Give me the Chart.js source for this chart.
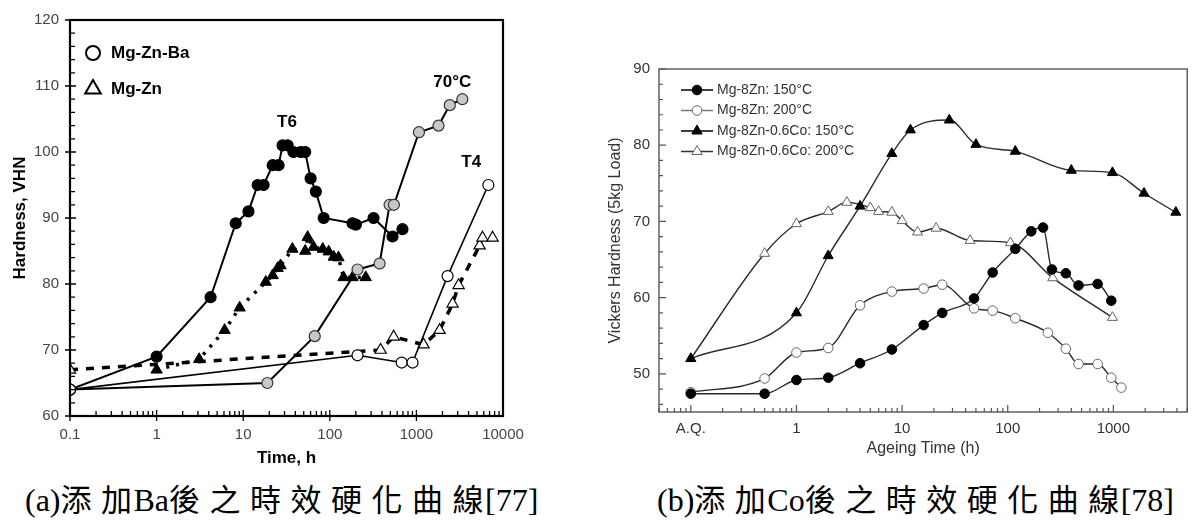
<!DOCTYPE html>
<html>
<head>
<meta charset="utf-8">
<script src="https://cdn.jsdelivr.net/npm/chart.js@4.4.0/dist/chart.umd.min.js"></script>
<style>
  body { margin: 0; background: #fff; width: 1194px; height: 526px; overflow: hidden; position: relative; }
  #wrapA { position: absolute; left: 0; top: 0; width: 560px; height: 470px; }
  #wrapB { position: absolute; left: 590px; top: 40px; width: 604px; height: 430px; }
  .cap { position: absolute; top: 475px; font-family: "Liberation Serif", "Noto Sans CJK TC", serif; font-size: 32px; color: #000; white-space: nowrap; }
  .cap span { font-family: "Noto Sans CJK TC", serif; letter-spacing: 9.5px; margin-right: -8px; font-size: 31px; }
</style>
</head>
<body>
<div id="wrapA"><canvas id="chartA"></canvas></div>
<div id="wrapB"><canvas id="chartB"></canvas></div>
<div class="cap" style="left:25px">(a)<span>添加</span>Ba<span>後之時效硬化曲線</span>[77]</div>
<div class="cap" style="left:657px">(b)<span>添加</span>Co<span>後之時效硬化曲線</span>[78]</div>
<script>
// ---- (a) Mg-Zn-Ba vs Mg-Zn, time (h) / hardness (VHN)
const baT6Time = [0.1, 1, 4.2, 8.2, 11.5, 14.7, 17.2, 21.9, 25.6, 28.5, 32.6, 38, 46, 52, 60, 69, 85, 183, 200, 320, 530, 690];
const baT6Hv   = [64, 69, 78, 89.2, 91, 95, 95, 98, 98, 101, 101, 100, 100, 100, 96, 94, 90, 89.2, 89, 90, 87.2, 88.3];
const ba70Time = [0.1, 19, 67, 209, 376, 490, 550, 1070, 1800, 2430, 3390];
const ba70Hv   = [64, 65, 72.1, 82.2, 83.1, 92, 92, 103, 104, 107.1, 108];
const baT4Time = [0.1, 209, 676, 903, 2290, 6770];
const baT4Hv   = [64, 69.2, 68.1, 68.1, 81.2, 95];
const znT6Time = [1, 3.1, 6.1, 9.1, 18.2, 21.9, 25, 27, 37, 52, 55.5, 65, 83, 97, 111, 126, 144, 183, 260];
const znT6Hv   = [67, 68.6, 73, 76.4, 80.3, 81.3, 82.4, 82.8, 85.3, 85, 87.1, 85.6, 85.3, 84.9, 84.1, 84, 81, 81, 81];
const znT4Time = [0.1, 386, 546, 1211, 1853, 2618, 3070, 5370, 5800, 7580];
const znT4Hv   = [67, 70, 72, 70.8, 73, 77, 79.8, 85.8, 87, 87];
const aXTicks = [0.1, 1, 10, 100, 1000, 10000];
const aYTicks = [60, 70, 80, 90, 100, 110, 120];
const aNotes = [{ t: 'T6', x: 32, y: 104.5 }, { t: '70°C', x: 2600, y: 110.5 }, { t: 'T4', x: 4300, y: 98.5 }];

// ---- (b) Mg-8Zn vs Mg-8Zn-0.6Co, ageing time (h) / hardness; A.Q. drawn at 0.1 h
const zn150Time = [0.1, 0.5, 1, 2, 4, 8, 16, 24, 48, 72, 118, 167, 216, 262, 355, 468, 710, 955];
const zn150Hv   = [47.4, 47.4, 49.2, 49.5, 51.4, 53.2, 56.4, 58, 59.9, 63.3, 66.4, 68.7, 69.2, 63.7, 63.2, 61.6, 61.8, 59.6];
const zn200Time = [0.1, 0.5, 1, 2, 4, 8, 16, 24, 48, 72, 118, 240, 355, 468, 710, 955, 1190];
const zn200Hv   = [47.6, 49.4, 52.8, 53.4, 59, 60.8, 61.2, 61.7, 58.6, 58.3, 57.3, 55.4, 53.3, 51.3, 51.3, 49.5, 48.2];
const co150Time = [0.1, 1, 2, 4, 8, 12, 28, 50, 118, 400, 980, 1950, 3900];
const co150Hv   = [52, 58, 65.5, 72, 78.9, 82, 83.3, 80.1, 79.2, 76.7, 76.4, 73.7, 71.2];
const co200Time = [0.1, 0.5, 1, 2, 3, 5, 6, 8, 10, 14, 21, 44, 106, 267, 980];
const co200Hv   = [52, 65.8, 69.7, 71.3, 72.5, 71.8, 71.3, 71.2, 70.1, 68.6, 69.1, 67.5, 67.2, 62.6, 57.4];
const bXTicks = [0.1, 1, 10, 100, 1000];
const bYTicks = [50, 60, 70, 80, 90];

const SANS = '"Liberation Sans", Arial, sans-serif';

function pts(xs, ys) { return xs.map((x, i) => ({ x: x, y: ys[i] })); }

function logMinor(lo, hi) {
  const out = [];
  for (let d = Math.pow(10, Math.floor(Math.log10(lo))); d < hi; d *= 10) {
    for (let k = 1; k < 10; k++) {
      const v = +(k * d).toPrecision(3);
      if (v >= lo && v <= hi) out.push(v);
    }
  }
  return out;
}
function linMinor(lo, hi, step) {
  const out = [];
  for (let v = lo; v <= hi + 1e-9; v += step) out.push(v);
  return out;
}

// frame + tick marks, drawn through the chart's scales
const framePlugin = {
  id: 'frame',
  afterDatasetsDraw(chart, args, o) {
    const { ctx, chartArea: a, scales } = chart;
    ctx.save();
    ctx.strokeStyle = o.color;
    ctx.lineWidth = o.tickWidth;
    ctx.beginPath();
    o.xMinor.forEach(v => {
      const px = scales.x.getPixelForValue(v);
      const major = o.xMajor.includes(v);
      ctx.moveTo(px, a.bottom + (major ? o.out : 0));
      ctx.lineTo(px, a.bottom - (major ? o.major : o.minor));
    });
    o.yMinor.forEach(v => {
      const py = scales.y.getPixelForValue(v);
      const major = o.yMajor.includes(v);
      ctx.moveTo(a.left - (major ? o.out : o.minorOut), py);
      ctx.lineTo(a.left + (major ? o.major : o.minor), py);
    });
    ctx.stroke();
    ctx.lineWidth = o.width;
    ctx.strokeRect(a.left, a.top, a.right - a.left, a.bottom - a.top);
    ctx.restore();
  }
};

const notesPlugin = {
  id: 'notes',
  afterDatasetsDraw(chart, args, o) {
    if (!o.items) return;
    const { ctx, scales } = chart;
    ctx.save();
    ctx.font = 'bold 17px ' + SANS;
    ctx.fillStyle = '#000';
    ctx.textAlign = 'center';
    ctx.textBaseline = 'middle';
    o.items.forEach(n => ctx.fillText(n.t, scales.x.getPixelForValue(n.x), scales.y.getPixelForValue(n.y)));
    ctx.restore();
  }
};

function drawMarker(ctx, style, x, y, r, fill, stroke, lw) {
  ctx.beginPath();
  if (style === 'triangle') {
    ctx.moveTo(x, y - r);
    ctx.lineTo(x + r * 0.866, y + r * 0.5);
    ctx.lineTo(x - r * 0.866, y + r * 0.5);
    ctx.closePath();
  } else {
    ctx.arc(x, y, r, 0, Math.PI * 2);
  }
  ctx.fillStyle = fill;
  ctx.fill();
  ctx.lineWidth = lw;
  ctx.strokeStyle = stroke;
  ctx.stroke();
}

const keyPlugin = {
  id: 'key',
  afterDraw(chart, args, o) {
    const { ctx, chartArea: a } = chart;
    ctx.save();
    o.rows.forEach((r, i) => {
      const y = a.top + o.top + i * o.gap;
      const x = a.left + o.left;
      if (o.lines) {
        ctx.beginPath();
        ctx.moveTo(x - 16, y);
        ctx.lineTo(x + 16, y);
        ctx.lineWidth = 1.5;
        ctx.strokeStyle = r.line;
        ctx.stroke();
      }
      drawMarker(ctx, r.style, x, y, r.r, r.fill, r.stroke, r.lw);
      ctx.font = o.font;
      ctx.fillStyle = o.color;
      ctx.textBaseline = 'middle';
      ctx.fillText(r.text, x + o.textDx, y);
    });
    ctx.restore();
  }
};

Chart.register(framePlugin, notesPlugin, keyPlugin);

function firstWhite(col) { return ctx => ctx.dataIndex === 0 ? '#fff' : col; }

// ---------------- chart (a)
new Chart(document.getElementById('chartA'), {
  type: 'line',
  data: {
    datasets: [
      { data: pts(baT6Time, baT6Hv), borderColor: '#000', borderWidth: 2, pointStyle: 'circle', pointRadius: 5.5,
        pointBackgroundColor: firstWhite('#000'), pointBorderColor: '#000', pointBorderWidth: 1.2, order: 3 },
      { data: pts(ba70Time, ba70Hv), borderColor: '#000', borderWidth: 2, pointStyle: 'circle', pointRadius: 5.5,
        pointBackgroundColor: firstWhite('#c8c8c8'), pointBorderColor: '#333', pointBorderWidth: 1.2, order: 2 },
      { data: pts(baT4Time, baT4Hv), borderColor: '#000', borderWidth: 1.6, pointStyle: 'circle', pointRadius: 5.5,
        pointBackgroundColor: '#fff', pointBorderColor: '#000', pointBorderWidth: 1.2, order: 1 },
      { data: pts(znT6Time, znT6Hv), borderColor: '#000', borderWidth: 3.5, borderDash: [3, 7], pointStyle: 'triangle', pointRadius: 6.5,
        pointBackgroundColor: '#000', pointBorderColor: '#000', pointBorderWidth: 1, order: 4 },
      { data: pts(znT4Time, znT4Hv), borderColor: '#000', borderWidth: 3.5, borderDash: [8, 8], pointStyle: 'triangle', pointRadius: 6.5,
        pointBackgroundColor: '#fff', pointBorderColor: '#000', pointBorderWidth: 1.2, order: 5 }
    ]
  },
  options: {
    responsive: true, maintainAspectRatio: false, animation: false,
    layout: { padding: { top: 11, right: 57, bottom: 0, left: 0 } },
    plugins: {
      legend: { display: false }, tooltip: { enabled: false },
      frame: { color: '#000', width: 2.2, tickWidth: 1.3, major: 6, minor: 5, out: 5, minorOut: 0,
               xMajor: aXTicks, xMinor: logMinor(0.1, 10000), yMajor: aYTicks, yMinor: linMinor(60, 120, 2) },
      notes: { items: aNotes },
      key: { top: 33, left: 23, gap: 36, font: 'bold 17px ' + SANS, color: '#000', textDx: 18, lines: false,
             rows: [{ text: 'Mg-Zn-Ba', style: 'circle', r: 7, fill: '#fff', stroke: '#000', lw: 2 },
                    { text: 'Mg-Zn', style: 'triangle', r: 9, fill: '#fff', stroke: '#000', lw: 2 }] }
    },
    scales: {
      x: {
        type: 'logarithmic', min: 0.1, max: 10000,
        afterBuildTicks: s => { s.ticks = aXTicks.map(v => ({ value: v })); },
        afterFit: s => { s.height = 54; },
        grid: { display: false, drawTicks: false }, border: { display: false },
        ticks: { autoSkip: false, maxRotation: 0, padding: 10, color: '#444', font: { family: SANS, size: 15 },
                 callback: v => String(v) },
        title: { display: true, text: 'Time, h', color: '#000', font: { family: SANS, size: 17, weight: 'bold' }, padding: { bottom: 1 } }
      },
      y: {
        min: 60, max: 120,
        afterBuildTicks: s => { s.ticks = aYTicks.map(v => ({ value: v })); },
        afterFit: s => { s.width = 70; },
        grid: { display: false, drawTicks: false }, border: { display: false },
        ticks: { padding: 11, color: '#444', font: { family: SANS, size: 15 } },
        title: { display: true, text: 'Hardness, VHN', color: '#000', font: { family: SANS, size: 17, weight: 'bold' }, padding: { top: 10 } }
      }
    }
  }
});

// ---------------- chart (b)
const lineCol = '#2a2a2a';
const bSets = [
  { label: 'Mg-8Zn: 150°C', data: pts(zn150Time, zn150Hv), pointStyle: 'circle', pointRadius: 4.8, pointBackgroundColor: '#000', pointBorderColor: '#000', keyLine: '#000' },
  { label: 'Mg-8Zn: 200°C', data: pts(zn200Time, zn200Hv), pointStyle: 'circle', pointRadius: 4.8, pointBackgroundColor: '#fff', pointBorderColor: '#666', keyLine: '#777' },
  { label: 'Mg-8Zn-0.6Co: 150°C', data: pts(co150Time, co150Hv), pointStyle: 'triangle', pointRadius: 5.8, pointBackgroundColor: '#000', pointBorderColor: '#000', keyLine: '#000' },
  { label: 'Mg-8Zn-0.6Co: 200°C', data: pts(co200Time, co200Hv), pointStyle: 'triangle', pointRadius: 5.8, pointBackgroundColor: '#fff', pointBorderColor: '#666', keyLine: '#333' }
];
bSets.forEach(d => { d.borderColor = lineCol; d.borderWidth = 1.4; d.cubicInterpolationMode = 'monotone'; d.pointBorderWidth = 1; });

new Chart(document.getElementById('chartB'), {
  type: 'line',
  data: { datasets: bSets },
  options: {
    responsive: true, maintainAspectRatio: false, animation: false,
    layout: { padding: { top: 29, right: 3, bottom: 0, left: 0 } },
    plugins: {
      legend: { display: false }, tooltip: { enabled: false },
      frame: { color: '#555', width: 1.4, tickWidth: 1.2, major: 7, minor: 4, out: 0, minorOut: 0,
               xMajor: bXTicks, xMinor: logMinor(0.05, 5000), yMajor: bYTicks, yMinor: linMinor(46, 90, 2) },
      key: { top: 21, left: 38, gap: 20.5, font: '14px ' + SANS, color: '#333', textDx: 20, lines: true,
             rows: bSets.map(d => ({ text: d.label, style: d.pointStyle, r: d.pointStyle === 'triangle' ? 6 : 4.8,
                                     fill: d.pointBackgroundColor, stroke: d.pointBorderColor, lw: 1, line: d.keyLine })) }
    },
    scales: {
      x: {
        type: 'logarithmic', min: 0.05, max: 5000,
        afterBuildTicks: s => { s.ticks = bXTicks.map(v => ({ value: v })); },
        afterFit: s => { s.height = 58; },
        grid: { display: false, drawTicks: false }, border: { display: false },
        ticks: { autoSkip: false, maxRotation: 0, padding: 8, color: '#333', font: { family: SANS, size: 15 },
                 callback: v => v === 0.1 ? 'A.Q.' : String(v) },
        title: { display: true, text: 'Ageing Time (h)', color: '#333', font: { family: SANS, size: 16 }, padding: { bottom: 12 } }
      },
      y: {
        min: 45, max: 90,
        afterBuildTicks: s => { s.ticks = bYTicks.map(v => ({ value: v })); },
        afterFit: s => { s.width = 69; },
        grid: { display: false, drawTicks: false }, border: { display: false },
        ticks: { padding: 9, color: '#333', font: { family: SANS, size: 15 } },
        title: { display: true, text: 'Vickers Hardness (5kg Load)', color: '#333', font: { family: SANS, size: 16 }, padding: { top: 16 } }
      }
    }
  }
});
</script>
</body>
</html>
